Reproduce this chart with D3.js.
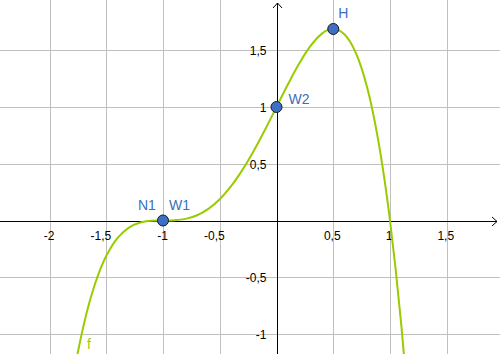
<!DOCTYPE html>
<html><head><meta charset="utf-8">
<script src="https://cdn.jsdelivr.net/npm/d3@7"></script>
<style>body{margin:0;background:#fff}svg{display:block}</style>
</head><body>
<svg id="c" width="500" height="354"></svg>
<script>
const curveX = [-1.8,-1.75,-1.7,-1.65,-1.6,-1.55,-1.5,-1.4,-1.3,-1.2,-1.1,-1.0,-0.9,-0.8,-0.7,-0.6,-0.5,-0.4,-0.3,-0.2,-0.1,0,0.1,0.2,0.3,0.4,0.45,0.5,0.55,0.6,0.65,0.7,0.75,0.8,0.85,0.9,0.95,1.0,1.05,1.1,1.15,1.2];
const curveY = [-1.4336,-1.1602,-0.9261,-0.7278,-0.5616,-0.4243,-0.3125,-0.1536,-0.0621,-0.0176,-0.0021,0,0.0019,0.0144,0.0459,0.1024,0.1875,0.3024,0.4459,0.6144,0.8019,1,1.1979,1.3824,1.5379,1.6464,1.6767,1.6875,1.6757,1.6384,1.5722,1.4739,1.3398,1.1664,0.9497,0.6859,0.3707,0,-0.4308,-0.9261,-1.4908,-2.1296];
// Marked points
const pointNames = ["N1","W1","W2","H"];
const pointX = [-1, -1, 0, 0.5];
const pointY = [0, 0, 1, 1.6875];
// Ticks
const xTicks = [-2,-1.5,-1,-0.5,0.5,1,1.5];
const xTickLabels = ["-2","-1,5","-1","-0,5","0,5","1","1,5"];
const yTicks = [-1,-0.5,0.5,1,1.5];
const yTickLabels = ["-1","-0,5","0,5","1","1,5"];
const funcName = "f";

const W = 500, H = 354;
const x0 = 276.5, y0 = 220.5, unit = 113.5;
const x = d3.scaleLinear().domain([0, 1]).range([x0, x0 + unit]);
const y = d3.scaleLinear().domain([0, 1]).range([y0, y0 - unit]);

const svg = d3.select("#c");
svg.append("defs").append("clipPath").attr("id","clip")
  .append("rect").attr("x",0).attr("y",0).attr("width",W).attr("height",H);

const font = "'Liberation Sans', Arial, sans-serif";

// grid
const grid = svg.append("g").attr("stroke","#c0c0c0").attr("stroke-width",1).attr("shape-rendering","crispEdges");
const gx = [-2.5,-2,-1.5,-1,-0.5,0.5,1,1.5];
grid.selectAll("line.v").data(gx).join("line").attr("class","v")
  .attr("x1",d=>Math.round(x(d))+0.5).attr("x2",d=>Math.round(x(d))+0.5).attr("y1",0).attr("y2",H);
const gy = [-1,-0.5,0.5,1,1.5];
grid.selectAll("line.h").data(gy).join("line").attr("class","h")
  .attr("y1",d=>Math.round(y(d))+0.5).attr("y2",d=>Math.round(y(d))+0.5).attr("x1",0).attr("x2",W);

// axes
const ax = svg.append("g").attr("stroke","#000").attr("stroke-width",1).attr("fill","none");
const yAx = Math.round(y(0)) + 0.5, xAx = Math.round(x(0)) + 0.5;
ax.append("line").attr("x1",0).attr("x2",497).attr("y1",yAx).attr("y2",yAx).attr("shape-rendering","crispEdges");
ax.append("path").attr("d",`M492,${yAx-4.5}L497,${yAx}L492,${yAx+4.5}`);
ax.append("line").attr("x1",xAx).attr("x2",xAx).attr("y1",3).attr("y2",H).attr("shape-rendering","crispEdges");
ax.append("path").attr("d",`M${xAx-4.5},8L${xAx},3L${xAx+4.5},8`);

// tick labels
const tl = svg.append("g").attr("font-family",font).attr("font-size",12).attr("fill","#000");
tl.selectAll("text.x").data(xTicks).join("text").attr("class","x")
  .attr("x",d=> d<0 ? x(d)+5 : x(d)-1)
  .attr("y",240)
  .attr("text-anchor",d=> d<0 ? "end" : "middle")
  .text((d,i)=>xTickLabels[i]);
tl.selectAll("text.y").data(yTicks).join("text").attr("class","y")
  .attr("x",x(0)-10)
  .attr("y",d=> d===-1 ? y(d)+4.5 : y(d)+5)
  .attr("text-anchor","end")
  .text((d,i)=>yTickLabels[i]);

// curve
const pts = curveX.map((v,i)=>[v, curveY[i]]);
svg.append("path").datum(pts).attr("clip-path","url(#clip)")
  .attr("fill","none").attr("stroke","#99cc00").attr("stroke-width",2)
  .attr("d", d3.line().x(d=>x(d[0])).y(d=>y(d[1])).curve(d3.curveCatmullRom));

svg.append("text").attr("x",87).attr("y",349).attr("font-family",font).attr("font-size",14)
  .attr("fill","#99cc00").text(funcName);

// points
const uniq = [[pointX[0],pointY[0]],[pointX[2],pointY[2]],[pointX[3],pointY[3]]];
svg.selectAll("circle.p").data(uniq).join("circle").attr("class","p")
  .attr("cx",d=>x(d[0])).attr("cy",d=>y(d[1])).attr("r",5.5)
  .attr("fill","#3d6fc4").attr("stroke","#1a1a1a").attr("stroke-width",1);

// point labels
const lblOff = [[-25,-11],[6,-11],[12,-3],[5,-11]];
svg.selectAll("text.pl").data(pointNames).join("text").attr("class","pl")
  .attr("x",(d,i)=>x(pointX[i])+lblOff[i][0]).attr("y",(d,i)=>y(pointY[i])+lblOff[i][1])
  .attr("font-family",font).attr("font-size",14).attr("fill","#3d6fb8").text(d=>d);
</script>
</body></html>
